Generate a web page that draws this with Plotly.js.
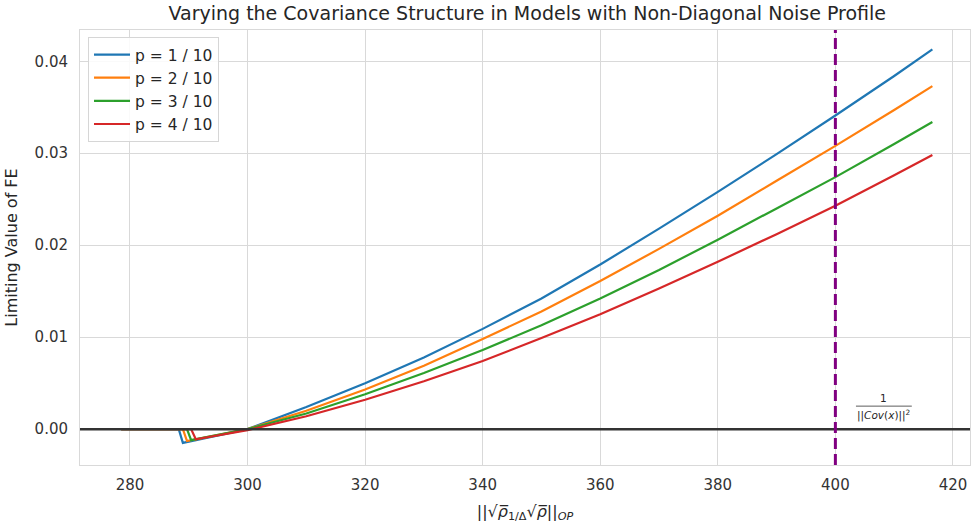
<!DOCTYPE html>
<html>
<head>
<meta charset="utf-8">
<script src="https://cdn.plot.ly/plotly-3.0.1.min.js"></script>
<style>html,body{margin:0;padding:0;background:#fff;}#chart{width:971px;height:532px;}</style>
</head>
<body>
<div id="chart"></div>
<script>
// Series names
const seriesNames = ["p = 1 / 10", "p = 2 / 10", "p = 3 / 10", "p = 4 / 10"];
const seriesColors = ["#1f77b4", "#ff7f0e", "#2ca02c", "#d62728"];

// x values for each series (shared smooth part, series-specific dip)
const xP1 = [278.5, 288.3, 289.0, 300, 310, 320, 330, 340, 350, 360, 370, 380, 390, 400, 410, 416.5];
const xP2 = [278.5, 289.0, 289.7, 300, 310, 320, 330, 340, 350, 360, 370, 380, 390, 400, 410, 416.5];
const xP3 = [278.5, 289.7, 290.4, 300, 310, 320, 330, 340, 350, 360, 370, 380, 390, 400, 410, 416.5];
const xP4 = [278.5, 290.4, 291.2, 300, 310, 320, 330, 340, 350, 360, 370, 380, 390, 400, 410, 416.5];

// limiting value of FE
const yP1 = [0, 0, -0.0015, 0.0000, 0.0024, 0.0050, 0.0078, 0.0109, 0.0142, 0.0179, 0.0218, 0.0258, 0.0299, 0.0341, 0.0384, 0.0413];
const yP2 = [0, 0, -0.0013, 0.0000, 0.0020, 0.0043, 0.0069, 0.0098, 0.0128, 0.0161, 0.0196, 0.0232, 0.0270, 0.0308, 0.0347, 0.0373];
const yP3 = [0, 0, -0.0012, 0.0000, 0.0017, 0.0038, 0.0061, 0.0086, 0.0113, 0.0142, 0.0173, 0.0206, 0.0240, 0.0274, 0.0310, 0.0334];
const yP4 = [0, 0, -0.0011, -0.0001, 0.0014, 0.0032, 0.0052, 0.0074, 0.0099, 0.0125, 0.0153, 0.0182, 0.0212, 0.0243, 0.0276, 0.0298];

const xTicks = [280, 300, 320, 340, 360, 380, 400, 420];
const yTicks = [0, 0.01, 0.02, 0.03, 0.04];
const thresholdX = 400;

const xs = [xP1, xP2, xP3, xP4];
const ys = [yP1, yP2, yP3, yP4];

const traces = seriesNames.map((n, i) => ({
  x: xs[i], y: ys[i], name: n, type: 'scatter', mode: 'lines', legendgroup: 'g' + i,
  line: {color: seriesColors[i], width: 2.2}
}));

const FONT = "DejaVu Sans, sans-serif";
const layout = {
  width: 971, height: 532,
  margin: {l: 80, r: 1, t: 30, b: 67},
  paper_bgcolor: '#fff', plot_bgcolor: '#fff',
  font: {family: FONT, color: '#262626', size: 15},
  title: {text: "Varying the Covariance Structure in Models with Non-Diagonal Noise Profile",
          font: {size: 19, family: FONT, color: '#262626'}, x: 0.543, xanchor: 'center', y: 0.974, yanchor: 'middle'},
  showlegend: true,
  legend: {x: 0.009, y: 0.984, xanchor: 'left', yanchor: 'top', bgcolor: 'rgba(255,255,255,0.85)',
           bordercolor: '#d6d6d6', borderwidth: 1, font: {size: 15.5, family: FONT, color: '#262626'},
           traceorder: 'grouped', tracegroupgap: 0, itemwidth: 36},
  xaxis: {range: [271.5, 422.9], tickvals: xTicks, ticktext: xTicks.map(String),
          showgrid: true, gridcolor: '#d9d9d9', gridwidth: 1, zeroline: false,
          showline: true, linecolor: '#d9d9d9', mirror: true, ticks: '', ticklabelstandoff: 6,
          tickfont: {size: 15, color: '#333'},
          title: {text: "||√<i>ρ̅</i><sub>1/Δ</sub>√<i>ρ̅</i>||<sub><i>OP</i></sub>", font: {size: 16, color: '#262626'}, standoff: 12}},
  yaxis: {range: [-0.0039, 0.0434], tickvals: yTicks, ticktext: yTicks.map(v => v.toFixed(2)),
          showgrid: true, gridcolor: '#d9d9d9', gridwidth: 1, zeroline: false,
          showline: true, linecolor: '#d9d9d9', mirror: true, ticks: '', ticklabelstandoff: 8,
          tickfont: {size: 15, color: '#333'},
          title: {text: "Limiting Value of FE", font: {size: 16, color: '#262626'}, standoff: 12}},
  shapes: [
    {type: 'line', xref: 'paper', yref: 'y', x0: 0, x1: 1, y0: 0, y1: 0, line: {color: '#333333', width: 2.5}},
    {type: 'line', xref: 'x', yref: 'paper', x0: thresholdX, x1: thresholdX, y0: 0, y1: 1,
     line: {color: '#800080', width: 3, dash: '11px,5px'}},
    {type: 'line', xref: 'x', yref: 'y', x0: 403.5, x1: 413.0, y0: 0.0025, y1: 0.0025, line: {color: '#333', width: 0.8}}
  ],
  annotations: [
    {x: 408.2, y: 0.0025, xref: 'x', yref: 'y', text: '1', showarrow: false, yanchor: 'bottom', font: {size: 10.5, color: '#262626'}},
    {x: 408.2, y: 0.0025, xref: 'x', yref: 'y', text: '||<i>Cov</i>(<i>x</i>)||<sup>2</sup>', showarrow: false, yanchor: 'top', font: {size: 10.5, color: '#262626'}}
  ]
};

Plotly.newPlot('chart', traces, layout, {displayModeBar: false, staticPlot: true});
</script>
</body>
</html>
